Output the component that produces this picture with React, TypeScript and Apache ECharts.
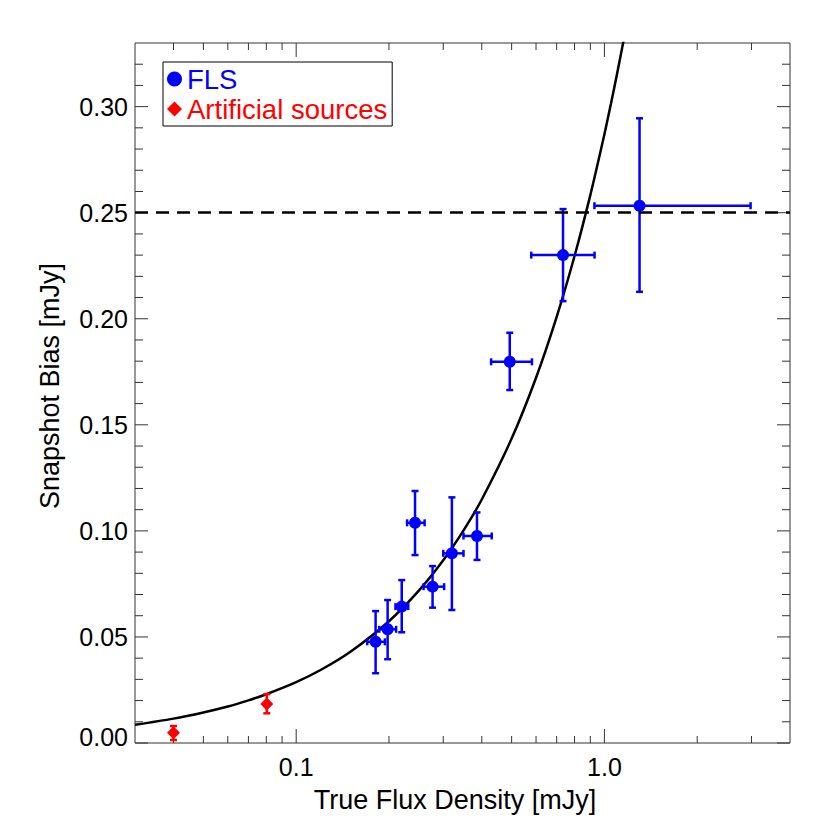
import React, { useEffect, useRef } from "react";
import * as echarts from "echarts";

// FLS measurements (x = true flux density, y = snapshot bias, with error ranges)
const flsX = [0.181, 0.198, 0.220, 0.277, 0.243, 0.320, 0.386, 0.493, 0.734, 1.30];
const flsY = [0.0477, 0.0536, 0.0643, 0.0737, 0.1038, 0.0894, 0.0976, 0.1797, 0.2300, 0.2533];
const flsXLo = [0.170, 0.186, 0.210, 0.259, 0.229, 0.300, 0.349, 0.429, 0.579, 0.928];
const flsXHi = [0.194, 0.211, 0.231, 0.302, 0.261, 0.349, 0.431, 0.582, 0.929, 2.98];
const flsYLo = [0.0329, 0.0395, 0.0522, 0.0638, 0.0886, 0.0627, 0.0863, 0.1664, 0.2083, 0.2127];
const flsYHi = [0.0622, 0.0674, 0.0768, 0.0834, 0.1188, 0.1158, 0.1087, 0.1934, 0.2517, 0.2945];

// Artificial sources
const artX = [0.040, 0.0803];
const artY = [0.0048, 0.0184];
const artYLo = [0.0014, 0.0140];
const artYHi = [0.0080, 0.0230];

// Fitted curve
const curveX = [0.03, 0.04, 0.05, 0.06, 0.07, 0.08, 0.1, 0.12, 0.15, 0.2, 0.25, 0.3, 0.35, 0.4, 0.5, 0.6, 0.7, 0.8, 0.9, 1.0, 1.05, 1.1, 1.15, 1.2];
const curveY = [0.0086, 0.0115, 0.0144, 0.0172, 0.0201, 0.0230, 0.0287, 0.0344, 0.0430, 0.0574, 0.0718, 0.0861, 0.1005, 0.1148, 0.1435, 0.1722, 0.2009, 0.2296, 0.2583, 0.2870, 0.3014, 0.3157, 0.3301, 0.3444];

// Threshold (dashed line)
const biasLimit = 0.25;

// Axis ticks
const xMajorTicks = [0.1, 1];
const xMinorTicks = [0.04, 0.05, 0.06, 0.07, 0.08, 0.09, 0.2, 0.3, 0.4, 0.5, 0.6, 0.7, 0.8, 0.9, 2, 3];
const yMajorTicks = [0, 0.05, 0.1, 0.15, 0.2, 0.25, 0.3];
const yMinorTicks = [0.01, 0.02, 0.03, 0.04, 0.06, 0.07, 0.08, 0.09, 0.11, 0.12, 0.13, 0.14, 0.16, 0.17, 0.18, 0.19, 0.21, 0.22, 0.23, 0.24, 0.26, 0.27, 0.28, 0.29, 0.31, 0.32];

const FONT = "'Liberation Sans', Arial, Helvetica, sans-serif";
const BLUE = "#0000ff";
const RED = "#ff0000";
const AXIS = "#333333";

function errorBarRender(color: string) {
  return (params: any, api: any) => {
    const x = api.value(0), y = api.value(1);
    const xl = api.value(2), xh = api.value(3), yl = api.value(4), yh = api.value(5);
    const c = api.coord([x, y]);
    const pxl = api.coord([xl, y])[0];
    const pxh = api.coord([xh, y])[0];
    const pyl = api.coord([x, yl])[1];
    const pyh = api.coord([x, yh])[1];
    const style = { stroke: color, lineWidth: 2.5 };
    const cap = 3.5;
    const children: any[] = [];
    if (Math.abs(pxh - pxl) > 0.5) {
      children.push({ type: "line", shape: { x1: pxl, y1: c[1], x2: pxh, y2: c[1] }, style });
      children.push({ type: "line", shape: { x1: pxl, y1: c[1] - cap, x2: pxl, y2: c[1] + cap }, style });
      children.push({ type: "line", shape: { x1: pxh, y1: c[1] - cap, x2: pxh, y2: c[1] + cap }, style });
    }
    children.push({ type: "line", shape: { x1: c[0], y1: pyl, x2: c[0], y2: pyh }, style });
    children.push({ type: "line", shape: { x1: c[0] - cap, y1: pyl, x2: c[0] + cap, y2: pyl }, style });
    children.push({ type: "line", shape: { x1: c[0] - cap, y1: pyh, x2: c[0] + cap, y2: pyh }, style });
    return { type: "group", children };
  };
}

export default function App() {
  const ref = useRef<HTMLDivElement>(null);

  useEffect(() => {
    if (!ref.current) return;
    const chart = echarts.init(ref.current, null, { renderer: "svg" });

    const flsData = flsX.map((x, i) => [x, flsY[i], flsXLo[i], flsXHi[i], flsYLo[i], flsYHi[i]]);
    const artData = artX.map((x, i) => [x, artY[i], x, x, artYLo[i], artYHi[i]]);
    const curveData = curveX.map((x, i) => [x, curveY[i]]);
    const xTickData = xMajorTicks.map((v) => [v, 0.1, 14]).concat(xMinorTicks.map((v) => [v, 0.1, 7]));
    const yTickData = yMajorTicks.map((v) => [1, v, 13]).concat(yMinorTicks.map((v) => [1, v, 8]));

    const isDecade = (v: number) => Math.abs(Math.log10(v) - Math.round(Math.log10(v))) < 1e-6;

    chart.setOption({
      animation: false,
      backgroundColor: "#ffffff",
      grid: {
        left: 135,
        top: 43,
        width: 655,
        height: 700,
        show: true,
        borderColor: AXIS,
        borderWidth: 1,
        backgroundColor: "transparent",
      },
      legend: {
        orient: "vertical",
        left: 163,
        top: 62,
        padding: [3, 5, 3, 4],
        itemGap: 2,
        itemWidth: 15,
        itemHeight: 15,
        backgroundColor: "#ffffff",
        borderColor: "#000000",
        borderWidth: 1,
        borderRadius: 0,
        textStyle: { fontFamily: FONT, fontSize: 27.5 },
        data: [
          { name: "FLS", icon: "circle", textStyle: { color: BLUE } },
          { name: "Artificial sources", icon: "diamond", textStyle: { color: RED } },
        ],
      },
      xAxis: {
        type: "log",
        logBase: 10,
        min: 0.03,
        max: 4,
        name: "True Flux Density [mJy]",
        nameLocation: "middle",
        nameGap: 43,
        nameTextStyle: { fontFamily: FONT, fontSize: 27, color: "#000", padding: [0, 15, 0, 0] },
        axisLine: { show: false },
        axisTick: { show: false },
        splitLine: { show: false },
        axisLabel: {
          margin: 11,
          fontFamily: FONT,
          fontSize: 25,
          color: "#000",
          formatter: (v: number) => (isDecade(v) ? v.toFixed(1) : ""),
        },
      },
      yAxis: {
        type: "value",
        min: 0,
        max: 0.33,
        interval: 0.05,
        name: "Snapshot Bias [mJy]",
        nameLocation: "middle",
        nameGap: 72,
        nameTextStyle: { fontFamily: FONT, fontSize: 27, color: "#000", padding: [0, 0, 0, 14] },
        axisLine: { show: false },
        axisTick: { show: false },
        splitLine: { show: false },
        axisLabel: {
          margin: 7,
          fontFamily: FONT,
          fontSize: 25,
          color: "#000",
          showMaxLabel: false,
          formatter: (v: number) => (v === 0 ? "{lo|" + v.toFixed(2) + "}" : v.toFixed(2)),
          rich: {
            lo: { fontFamily: FONT, fontSize: 25, color: "#000", padding: [0, 0, 12, 0] },
          },
        },
      },
      series: [
        {
          type: "custom",
          name: "xticks",
          silent: true,
          z: 1,
          data: xTickData,
          encode: { x: 0, y: 1 },
          renderItem: (params: any, api: any) => {
            const cs = params.coordSys;
            const px = api.coord([api.value(0), 0.1])[0];
            const len = api.value(2);
            const style = { stroke: AXIS, lineWidth: 1 };
            return {
              type: "group",
              children: [
                { type: "line", shape: { x1: px, y1: cs.y + cs.height, x2: px, y2: cs.y + cs.height - len }, style },
                { type: "line", shape: { x1: px, y1: cs.y, x2: px, y2: cs.y + len }, style },
              ],
            };
          },
        },
        {
          type: "custom",
          name: "yticks",
          silent: true,
          z: 1,
          data: yTickData,
          encode: { x: 0, y: 1 },
          renderItem: (params: any, api: any) => {
            const cs = params.coordSys;
            const py = api.coord([1, api.value(1)])[1];
            const len = api.value(2);
            const style = { stroke: AXIS, lineWidth: 1 };
            return {
              type: "group",
              children: [
                { type: "line", shape: { x1: cs.x, y1: py, x2: cs.x + len, y2: py }, style },
                { type: "line", shape: { x1: cs.x + cs.width, y1: py, x2: cs.x + cs.width - len, y2: py }, style },
              ],
            };
          },
        },
        {
          type: "line",
          name: "fit",
          data: curveData,
          smooth: 0.3,
          showSymbol: false,
          symbol: "none",
          z: 2,
          lineStyle: { color: "#000", width: 2.5 },
          silent: true,
          markLine: {
            silent: true,
            symbol: "none",
            label: { show: false },
            lineStyle: { color: "#000", width: 2.5, type: [13, 8] },
            data: [{ yAxis: biasLimit }],
          },
        },
        {
          type: "custom",
          name: "flsErr",
          silent: true,
          z: 3,
          data: flsData,
          encode: { x: 0, y: 1 },
          renderItem: errorBarRender(BLUE),
        },
        {
          type: "custom",
          name: "artErr",
          silent: true,
          z: 3,
          data: artData,
          encode: { x: 0, y: 1 },
          renderItem: errorBarRender(RED),
        },
        {
          type: "scatter",
          name: "FLS",
          symbol: "circle",
          symbolSize: 12,
          z: 4,
          itemStyle: { color: BLUE, opacity: 1 },
          data: flsX.map((x, i) => [x, flsY[i]]),
        },
        {
          type: "scatter",
          name: "Artificial sources",
          symbol: "diamond",
          symbolSize: 13,
          z: 4,
          itemStyle: { color: RED, opacity: 1 },
          data: artX.map((x, i) => [x, artY[i]]),
        },
      ],
    });

    return () => chart.dispose();
  }, []);

  return <div ref={ref} style={{ position: "fixed", left: 0, top: 0, width: 830, height: 830 }} />;
}
